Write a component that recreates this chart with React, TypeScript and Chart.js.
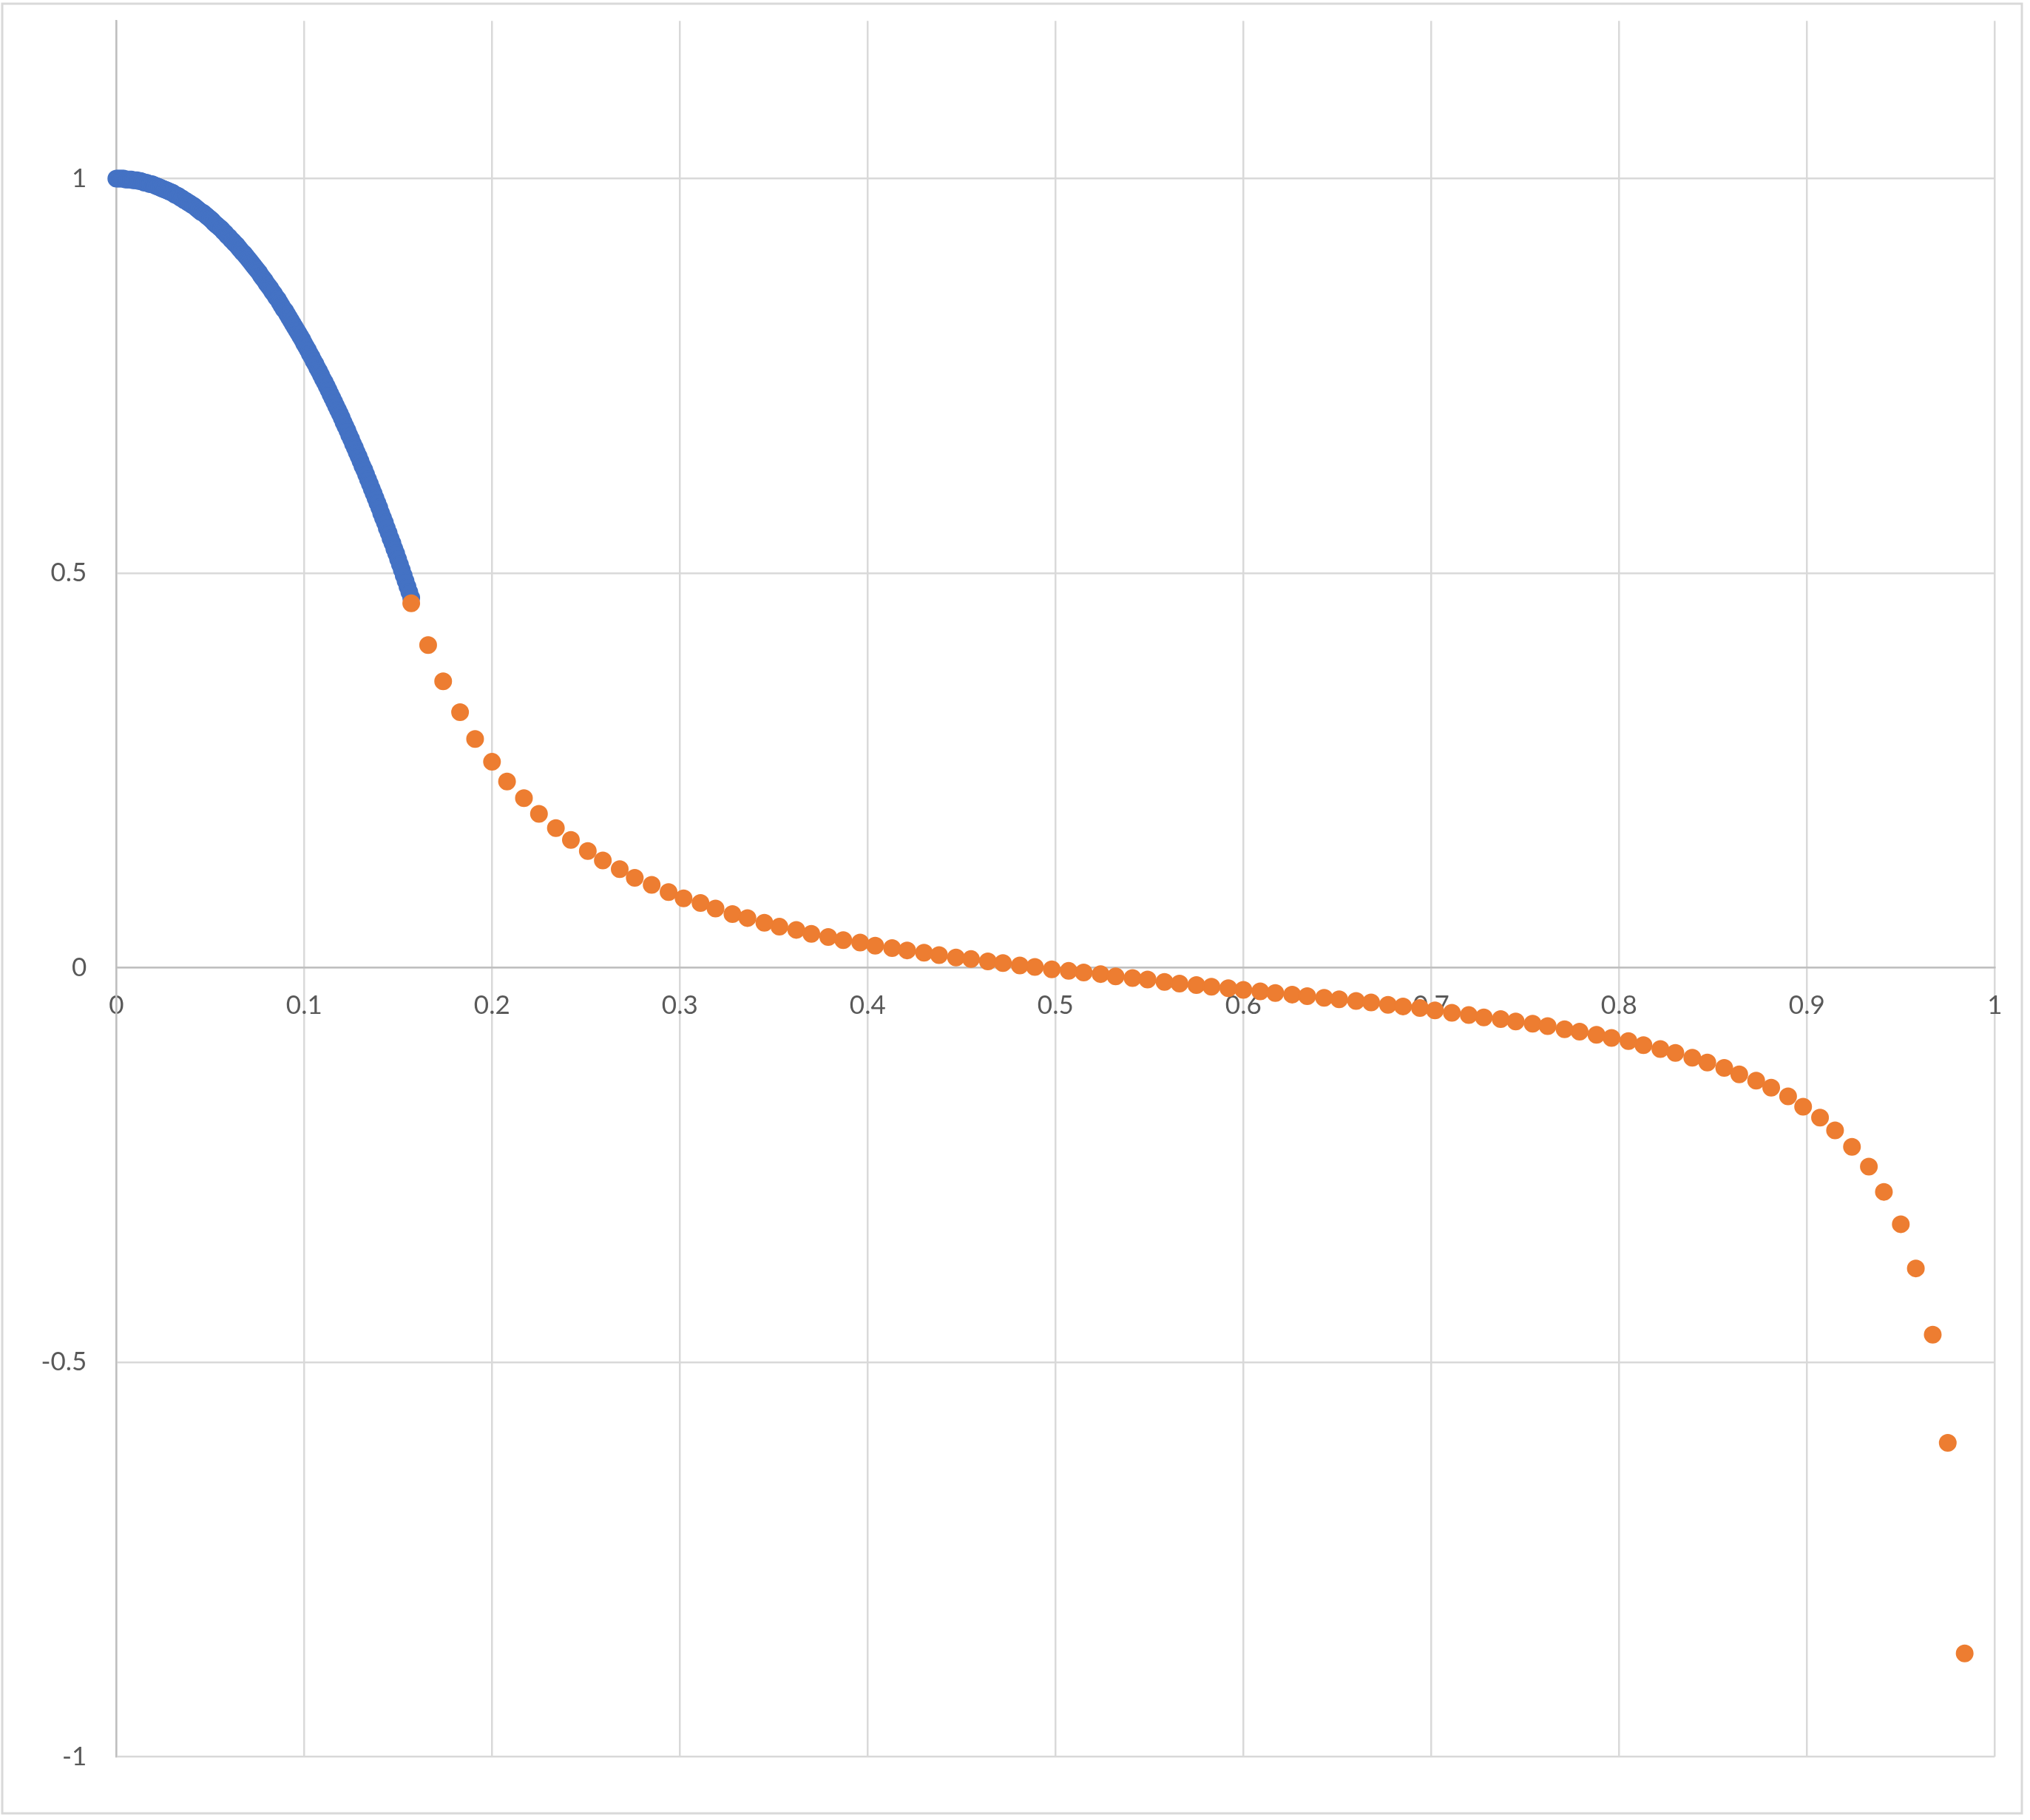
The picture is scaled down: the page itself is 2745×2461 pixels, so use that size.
import React, { useEffect, useRef } from 'react';
import { Chart, registerables } from 'chart.js';

Chart.register(...registerables);

const W = 2745;
const H = 2461;

// Blue series (dense)
const blueX = [
  0, 0.001, 0.002, 0.003, 0.004, 0.005, 0.006, 0.007, 0.008, 0.009,
  0.01, 0.011, 0.012, 0.013, 0.014, 0.015, 0.016, 0.017, 0.018, 0.019,
  0.02, 0.021, 0.022, 0.023, 0.024, 0.025, 0.026, 0.027, 0.028, 0.029,
  0.03, 0.031, 0.032, 0.033, 0.034, 0.035, 0.036, 0.037, 0.038, 0.039,
  0.04, 0.041, 0.042, 0.043, 0.044, 0.045, 0.046, 0.047, 0.048, 0.049,
  0.05, 0.051, 0.052, 0.053, 0.054, 0.055, 0.056, 0.057, 0.058, 0.059,
  0.06, 0.061, 0.062, 0.063, 0.064, 0.065, 0.066, 0.067, 0.068, 0.069,
  0.07, 0.071, 0.072, 0.073, 0.074, 0.075, 0.076, 0.077, 0.078, 0.079,
  0.08, 0.081, 0.082, 0.083, 0.084, 0.085, 0.086, 0.087, 0.088, 0.089,
  0.09, 0.091, 0.092, 0.093, 0.094, 0.095, 0.096, 0.097, 0.098, 0.099,
  0.1, 0.101, 0.102, 0.103, 0.104, 0.105, 0.106, 0.107, 0.108, 0.109,
  0.11, 0.111, 0.112, 0.113, 0.114, 0.115, 0.116, 0.117, 0.118, 0.119,
  0.12, 0.121, 0.122, 0.123, 0.124, 0.125, 0.126, 0.127, 0.128, 0.129,
  0.13, 0.131, 0.132, 0.133, 0.134, 0.135, 0.136, 0.137, 0.138, 0.139,
  0.14, 0.141, 0.142, 0.143, 0.144, 0.145, 0.146, 0.147, 0.148, 0.149,
  0.15, 0.151, 0.152, 0.153, 0.154, 0.155, 0.156, 0.157,
];
const blueY = [
  1.0, 1.0, 1.0, 1.0, 1.0, 0.999, 0.999, 0.999, 0.999, 0.998,
  0.998, 0.998, 0.997, 0.997, 0.996, 0.995, 0.995, 0.994, 0.993, 0.993,
  0.992, 0.991, 0.99, 0.989, 0.988, 0.987, 0.986, 0.985, 0.984, 0.983,
  0.982, 0.98, 0.979, 0.978, 0.976, 0.975, 0.973, 0.972, 0.97, 0.969,
  0.967, 0.966, 0.964, 0.962, 0.96, 0.958, 0.957, 0.955, 0.953, 0.951,
  0.949, 0.947, 0.944, 0.942, 0.94, 0.938, 0.936, 0.933, 0.931, 0.928,
  0.926, 0.923, 0.921, 0.918, 0.916, 0.913, 0.91, 0.907, 0.905, 0.902,
  0.899, 0.896, 0.893, 0.89, 0.887, 0.884, 0.881, 0.877, 0.874, 0.871,
  0.867, 0.864, 0.861, 0.857, 0.854, 0.85, 0.847, 0.843, 0.839, 0.835,
  0.832, 0.828, 0.824, 0.82, 0.816, 0.812, 0.808, 0.804, 0.8, 0.796,
  0.791, 0.787, 0.783, 0.778, 0.774, 0.769, 0.765, 0.76, 0.756, 0.751,
  0.746, 0.742, 0.737, 0.732, 0.727, 0.722, 0.717, 0.712, 0.707, 0.702,
  0.697, 0.691, 0.686, 0.681, 0.675, 0.67, 0.664, 0.659, 0.653, 0.648,
  0.642, 0.636, 0.631, 0.625, 0.619, 0.613, 0.607, 0.601, 0.595, 0.589,
  0.583, 0.576, 0.57, 0.564, 0.557, 0.551, 0.544, 0.538, 0.531, 0.525,
  0.518, 0.511, 0.504, 0.497, 0.49, 0.483, 0.476, 0.469,
];

// Orange series
const orangeX = [
  0.157, 0.166, 0.174, 0.183, 0.191, 0.2, 0.208, 0.217, 0.225, 0.234,
  0.242, 0.251, 0.259, 0.268, 0.276, 0.285, 0.294, 0.302, 0.311, 0.319,
  0.328, 0.336, 0.345, 0.353, 0.362, 0.37, 0.379, 0.387, 0.396, 0.404,
  0.413, 0.421, 0.43, 0.438, 0.447, 0.455, 0.464, 0.472, 0.481, 0.489,
  0.498, 0.507, 0.515, 0.524, 0.532, 0.541, 0.549, 0.558, 0.566, 0.575,
  0.583, 0.592, 0.6, 0.609, 0.617, 0.626, 0.634, 0.643, 0.651, 0.66,
  0.668, 0.677, 0.685, 0.694, 0.702, 0.711, 0.72, 0.728, 0.737, 0.745,
  0.754, 0.762, 0.771, 0.779, 0.788, 0.796, 0.805, 0.813, 0.822, 0.83,
  0.839, 0.847, 0.856, 0.864, 0.873, 0.881, 0.89, 0.898, 0.907, 0.915,
  0.924, 0.933, 0.941, 0.95, 0.958, 0.967, 0.975, 0.984,
];
const orangeY = [
  0.462, 0.409, 0.363, 0.324, 0.29, 0.261, 0.236, 0.215, 0.195, 0.177,
  0.162, 0.148, 0.136, 0.125, 0.114, 0.105, 0.096, 0.088, 0.082, 0.075,
  0.068, 0.063, 0.057, 0.052, 0.048, 0.043, 0.039, 0.035, 0.032, 0.028,
  0.025, 0.022, 0.019, 0.016, 0.013, 0.011, 0.008, 0.006, 0.003, 0.001,
  -0.002, -0.004, -0.006, -0.008, -0.011, -0.013, -0.015, -0.018, -0.02, -0.022,
  -0.024, -0.026, -0.028, -0.03, -0.032, -0.034, -0.036, -0.038, -0.04, -0.042,
  -0.044, -0.047, -0.049, -0.051, -0.054, -0.057, -0.06, -0.063, -0.065, -0.068,
  -0.071, -0.074, -0.078, -0.081, -0.085, -0.089, -0.093, -0.098, -0.103, -0.108,
  -0.114, -0.12, -0.127, -0.135, -0.143, -0.152, -0.163, -0.176, -0.19, -0.206,
  -0.227, -0.252, -0.284, -0.325, -0.381, -0.465, -0.602, -0.869,
];

const xTicks = [0, 0.1, 0.2, 0.3, 0.4, 0.5, 0.6, 0.7, 0.8, 0.9, 1];
const yTicks = [-1, -0.5, 0, 0.5, 1];

const FONT = { family: 'Lato', size: 35 };
const GRID = '#d9d9d9';
const AXIS = '#bfbfbf';
const LABEL = '#595959';

export default function App() {
  const ref = useRef<HTMLCanvasElement>(null);

  useEffect(() => {
    document.body.style.margin = '0';
    const canvas = ref.current;
    if (!canvas) return;

    const frame = {
      id: 'frame',
      beforeDraw(chart: any) {
        const c = chart.ctx;
        c.save();
        c.fillStyle = '#ffffff';
        c.fillRect(0, 0, W, H);
        c.strokeStyle = '#d9d9d9';
        c.lineWidth = 3;
        c.strokeRect(3, 5, 2731, 2447);
        c.restore();
      },
    };

    const chart = new Chart(canvas, {
      type: 'scatter',
      data: {
        datasets: [
          {
            label: 'Series1',
            data: blueX.map((x, i) => ({ x, y: blueY[i] })),
            backgroundColor: '#4472C4',
            borderColor: '#4472C4',
            pointRadius: 11,
            borderWidth: 2,
            order: 2,
            clip: false,
          },
          {
            label: 'Series2',
            data: orangeX.map((x, i) => ({ x, y: orangeY[i] })),
            backgroundColor: '#ED7D31',
            borderColor: '#ED7D31',
            pointRadius: 11,
            borderWidth: 2,
            order: 1,
            clip: false,
          },
        ],
      },
      options: {
        responsive: false,
        animation: false,
        devicePixelRatio: 1,
        layout: { padding: { left: 0, top: 28.2, right: 47.7, bottom: 85.4 } },
        plugins: { legend: { display: false }, tooltip: { enabled: false } },
        scales: {
          x: {
            type: 'linear',
            position: { y: 0 } as any,
            min: 0,
            max: 1,
            afterBuildTicks: (s: any) => {
              s.ticks = xTicks.map((v) => ({ value: v }));
            },
            afterFit: (s: any) => {
              s.height = 0;
              s.paddingTop = 0;
              s.paddingBottom = 0;
            },
            grid: { color: GRID, lineWidth: 2.5, drawTicks: false },
            border: { color: AXIS, width: 2.5 },
            ticks: {
              font: FONT,
              color: LABEL,
              padding: 30,
              maxRotation: 0,
              autoSkip: false,
              callback: (v: any) => String(v),
            },
          },
          y: {
            type: 'linear',
            position: 'left',
            min: -1,
            max: 1.2,
            afterBuildTicks: (s: any) => {
              s.ticks = yTicks.map((v) => ({ value: v }));
            },
            afterFit: (s: any) => {
              s.width = 157.3;
              s.paddingTop = 0;
              s.paddingBottom = 0;
            },
            grid: { color: GRID, lineWidth: 2.5, drawTicks: false },
            border: { color: AXIS, width: 2.5 },
            ticks: {
              font: FONT,
              color: LABEL,
              padding: 40,
              autoSkip: false,
              callback: (v: any) => String(v),
            },
          },
        },
      },
      plugins: [frame],
    });

    return () => chart.destroy();
  }, []);

  return (
    <canvas
      ref={ref}
      width={W}
      height={H}
      style={{ display: 'block', width: W, height: H }}
    />
  );
}
